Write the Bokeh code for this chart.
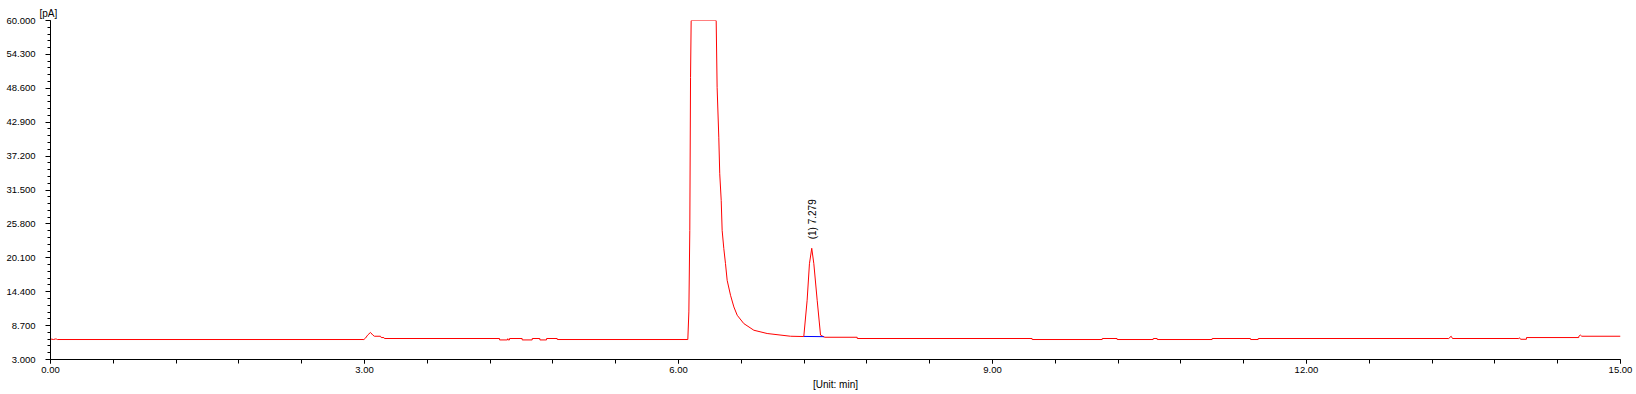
import numpy as np
from bokeh.plotting import figure
from bokeh.models import Range1d, FixedTicker, ColumnDataSource
from bokeh.core.properties import value
from bokeh.embed import file_html
from bokeh.resources import INLINE

# ---- data ----
time_min = [
    0.000, 0.030, 0.045, 0.055, 0.065, 2.994, 3.010, 3.030, 3.057, 3.080, 3.095,
    3.153, 3.160, 3.185, 3.190, 4.290, 4.291, 4.365, 4.369, 4.373, 4.385, 4.386,
    4.506, 4.507, 4.602, 4.603, 4.675, 4.676, 4.739, 4.740, 4.841, 4.842, 6.089,
    6.099, 6.108, 6.115, 6.121, 6.360, 6.369, 6.385, 6.394, 6.408, 6.417, 6.433,
    6.449, 6.465, 6.497, 6.529, 6.561, 6.624, 6.720, 6.847, 7.070, 7.197, 7.229,
    7.251, 7.273, 7.293, 7.325, 7.357, 7.389, 7.400, 7.707, 7.708, 9.378, 9.379,
    10.048, 10.049, 10.190, 10.191, 10.535, 10.536, 10.573, 10.574, 11.098, 11.099,
    11.465, 11.466, 11.538, 11.539, 13.359, 13.382, 13.395, 14.028, 14.035, 14.045,
    14.101, 14.102, 14.601, 14.602, 14.617, 14.630, 15.000,
]
signal_pA = [
    6.45, 6.36, 6.45, 6.45, 6.36, 6.36, 6.60, 7.10, 7.55, 7.10, 6.91,
    6.91, 6.69, 6.69, 6.53, 6.53, 6.29, 6.29, 6.50, 6.29, 6.29, 6.53,
    6.53, 6.29, 6.29, 6.53, 6.53, 6.29, 6.29, 6.53, 6.53, 6.36, 6.36,
    11.00, 24.70, 50.40, 60.00, 60.00, 48.77, 40.38, 34.23, 29.75, 24.71, 21.64,
    19.12, 16.31, 13.80, 11.84, 10.44, 9.04, 7.92, 7.37, 6.91, 6.86, 12.96,
    19.10, 21.70, 19.10, 12.96, 7.10, 6.80, 6.74, 6.74, 6.53, 6.53, 6.36,
    6.36, 6.53, 6.53, 6.36, 6.36, 6.53, 6.53, 6.36, 6.36, 6.53,
    6.53, 6.36, 6.36, 6.53, 6.53, 6.91, 6.53, 6.53, 6.65, 6.40,
    6.40, 6.69, 6.69, 6.91, 7.10, 6.91, 6.91,
]

# integration baseline of peak (1)
baseline_t = [7.197, 7.389]
baseline_v = [6.88, 6.84]

# peak annotation
peak_t = [7.279]
peak_v = [21.70]
peak_text = ["(1) 7.279"]

# axes
x_ticks = [0.0, 3.0, 6.0, 9.0, 12.0, 15.0]
x_tick_labels = ["0.00", "3.00", "6.00", "9.00", "12.00", "15.00"]
y_ticks = [3.0, 8.7, 14.4, 20.1, 25.8, 31.5, 37.2, 42.9, 48.6, 54.3, 60.0]
y_tick_labels = ["3.000", "8.700", "14.400", "20.100", "25.800", "31.500",
                 "37.200", "42.900", "48.600", "54.300", "60.000"]
x_unit_label = "[Unit: min]"
y_unit_label = "[pA]"

FONT = "Liberation Sans"

p = figure(width=1636, height=394, output_backend="svg", toolbar_location=None,
           x_range=Range1d(0, 15), y_range=Range1d(3, 60),
           min_border_left=50, min_border_right=16, min_border_top=20,
           min_border_bottom=35, title=y_unit_label)
p.outline_line_color = None
p.xgrid.visible = False
p.ygrid.visible = False
p.background_fill_color = "white"
p.border_fill_color = "white"

# "[pA]" unit caption above the y axis
p.title.align = "left"
p.title.offset = -11
p.title.standoff = 3
p.title.text_font = FONT
p.title.text_font_size = "10px"
p.title.text_font_style = "normal"
p.title.text_color = "black"

x_minor = [round(i * 0.6, 2) for i in range(0, 26)]
y_minor = [round(3 + i * 1.14, 3) for i in range(0, 51)]
p.xaxis.ticker = FixedTicker(ticks=x_ticks, minor_ticks=x_minor)
p.yaxis.ticker = FixedTicker(ticks=y_ticks, minor_ticks=y_minor)
p.xaxis.major_label_overrides = {t: l for t, l in zip(x_ticks, x_tick_labels)}
p.yaxis.major_label_overrides = {t: l for t, l in zip(y_ticks, y_tick_labels)}

for ax in (p.xaxis, p.yaxis):
    ax.axis_line_color = "black"
    ax.major_tick_line_color = "black"
    ax.minor_tick_line_color = "black"
    ax.major_tick_in = 0
    ax.minor_tick_in = 0
    ax.major_label_text_font = FONT
    ax.major_label_text_font_size = "9.5px"
    ax.major_label_text_color = "black"

p.xaxis.major_tick_out = 4
p.xaxis.minor_tick_out = 4
p.xaxis.major_label_standoff = 3
p.yaxis.major_tick_out = 5
p.yaxis.minor_tick_out = 3
p.yaxis.major_label_standoff = 10

# "[Unit: min]" caption under the x axis
p.xaxis.axis_label = x_unit_label
p.xaxis.axis_label_standoff = 3
p.xaxis.axis_label_text_font = FONT
p.xaxis.axis_label_text_font_size = "10px"
p.xaxis.axis_label_text_font_style = "normal"
p.xaxis.axis_label_text_color = "black"

p.line(time_min, signal_pA, line_color="#FF0000", line_width=1)
p.line(baseline_t, baseline_v, line_color="#0000FF", line_width=1)

src = ColumnDataSource(dict(t=peak_t, v=peak_v, s=peak_text))
p.text(x="t", y="v", text="s", source=src, angle=np.pi / 2, y_offset=-9,
       text_align="left", text_baseline="middle",
       text_font=value(FONT), text_font_size="10px", text_color="black")

open("out.html", "w").write(file_html(p, INLINE))
